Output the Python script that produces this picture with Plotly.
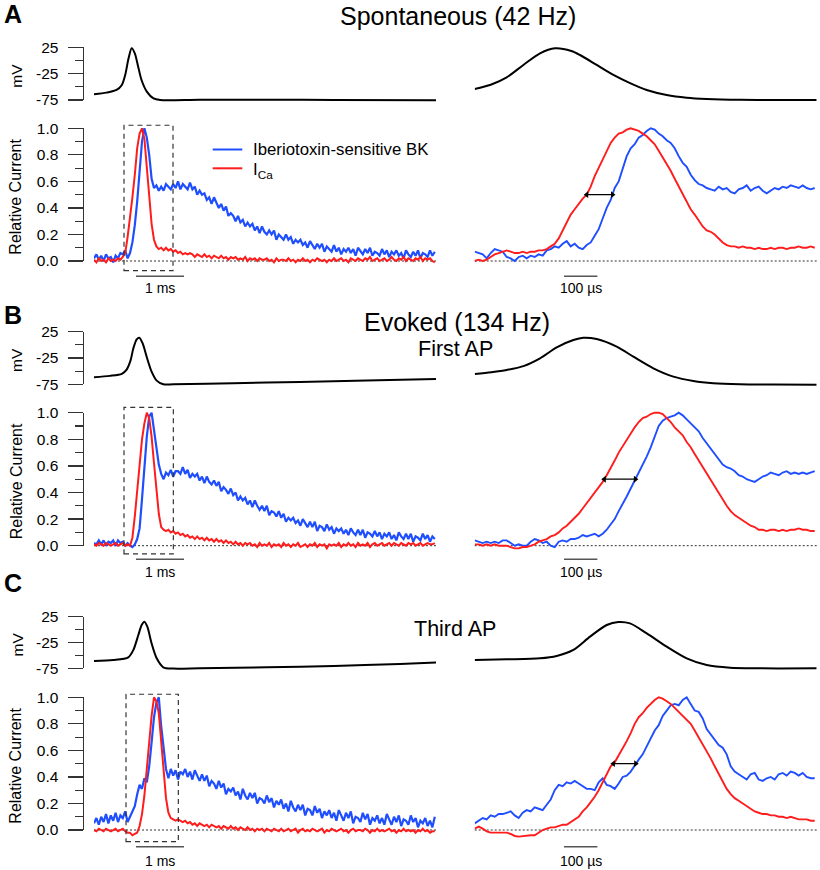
import numpy as np
import plotly.graph_objects as go

# ======================= DATA =======================
DT_LEFT_MS = 0.05   # sampling of full traces (ms)
DT_RIGHT_US = 12    # sampling of zoomed traces (us)

# ---------- A: Spontaneous (42 Hz) ----------
A_v_left_t = [0, 0.26, 0.47, 0.58, 0.65, 0.72, 0.785, 0.85, 0.92, 0.99, 1.10, 1.24, 1.38, 2.2, 3.6, 5.0, 7.125]
A_v_left = [-64, -61, -56, -46.5, -27.5, 4, 23, 13.6, -11.7, -37, -59, -72, -75, -74.4, -74.4, -75, -75.6]
A_bk_left = [0.02, 0.05, 0.01, 0.04, 0.00, 0.05, 0.02, 0.03, -0.01, 0.04, 0.02, 0.06, 0.05, 0.08, 0.02,
             0.06, 0.14, 0.27, 0.45, 0.70, 0.90, 1.00, 0.93, 0.80, 0.62, 0.55,
             0.57, 0.53, 0.56, 0.53, 0.58, 0.56, 0.54, 0.58, 0.55, 0.60,
             0.54, 0.58, 0.56, 0.54, 0.59, 0.54, 0.56, 0.50, 0.53, 0.50,
             0.51, 0.46, 0.48, 0.43, 0.48, 0.44, 0.40, 0.43, 0.38, 0.41,
             0.34, 0.36, 0.34, 0.30, 0.34, 0.29, 0.31, 0.26, 0.29, 0.26,
             0.28, 0.23, 0.26, 0.21, 0.26, 0.22, 0.20, 0.23, 0.20, 0.23,
             0.16, 0.20, 0.18, 0.16, 0.20, 0.16, 0.18, 0.13, 0.16, 0.14,
             0.16, 0.12, 0.14, 0.10, 0.15, 0.12, 0.09, 0.13, 0.10, 0.13,
             0.07, 0.11, 0.09, 0.07, 0.12,
             0.07, 0.10, 0.05, 0.09, 0.07, 0.10, 0.06, 0.09, 0.04, 0.10,
             0.07, 0.05, 0.09, 0.06, 0.10, 0.04, 0.07, 0.06, 0.04, 0.09,
             0.05, 0.08, 0.03, 0.07, 0.05, 0.08, 0.04, 0.06, 0.02, 0.08,
             0.05, 0.03, 0.07, 0.04, 0.08, 0.02, 0.06, 0.05, 0.03, 0.08,
             0.04, 0.07]
A_ca_left = [0.01, -0.01, 0.02, 0.00, 0.01, -0.01, 0.02, 0.00, 0.01, 0.00, 0.02, 0.01,
             0.03, 0.06, 0.18, 0.32, 0.48, 0.65, 0.85, 0.96, 1.00, 0.92, 0.70, 0.45, 0.28, 0.16,
             0.11, 0.09, 0.10, 0.08, 0.10, 0.08, 0.09, 0.07, 0.08, 0.06, 0.07, 0.05, 0.06, 0.05, 0.06,
             0.05, 0.03, 0.05, 0.04, 0.03, 0.05, 0.03, 0.04, 0.02, 0.04,
             0.03, 0.02, 0.04, 0.02, 0.03, 0.01, 0.03, 0.02, 0.03, 0.01,
             0.02, 0.01, 0.03, 0.00, 0.02, 0.01, 0.02, 0.00, 0.02, 0.01,
             0.01, 0.02, 0.00, 0.01, -0.01, 0.02, 0.00, 0.01, 0.01, 0.00,
             0.02, 0.00, 0.01, -0.01, 0.01, 0.00, 0.02, 0.00, 0.01, -0.01,
             0.01, 0.00, 0.02, 0.01, 0.00, 0.01, -0.01, 0.01, 0.00, 0.02,
             0.00, 0.01, 0.02, 0.00, 0.01, -0.01, 0.02, 0.01, 0.00, 0.02,
             0.01, 0.00, 0.02, 0.01, 0.03, 0.00, 0.01, 0.02, 0.00, 0.01,
             0.02, 0.00, 0.01, 0.03, 0.01, 0.00, 0.02, 0.01, 0.03, 0.00,
             0.02, 0.01, 0.00, 0.02, 0.01, 0.03, 0.00, 0.02, 0.01, 0.02, 0.00, -0.01]
A_v_right_t = [0, 48, 96, 146, 196, 241, 290, 316, 366, 416, 466, 516, 576, 636, 696, 796, 896, 1026]
A_v_right = [-54, -46, -32, -8.5, 13.6, 23, 18, 10.4, -8.5, -27.5, -43, -56, -65.5, -70.6, -73, -74.7, -75, -75]
A_bk_right = [0.07, 0.06, 0.05, 0.02, 0.06, 0.09, 0.08, 0.07, 0.03, 0.02,
              0.00, 0.03, 0.04, 0.02, 0.04, 0.03, 0.05, 0.04, 0.08, 0.09,
              0.11, 0.10, 0.13, 0.15, 0.11, 0.13, 0.10, 0.09, 0.12, 0.14,
              0.19, 0.24, 0.32, 0.40, 0.46, 0.55, 0.60, 0.69, 0.79, 0.85,
              0.88, 0.93, 0.95, 0.98, 1.00, 0.99, 0.96, 0.94, 0.91, 0.89,
              0.85, 0.79, 0.74, 0.71, 0.65, 0.61, 0.58, 0.57, 0.55, 0.54,
              0.53, 0.56, 0.54, 0.55, 0.52, 0.51, 0.54, 0.55, 0.57, 0.53,
              0.55, 0.56, 0.53, 0.51, 0.53, 0.55, 0.54, 0.56, 0.55, 0.57,
              0.56, 0.55, 0.57, 0.55, 0.54, 0.55]
A_ca_right = [0.00, 0.01, 0.00, 0.01, 0.03, 0.05, 0.06, 0.07, 0.08, 0.07,
              0.06, 0.06, 0.07, 0.06, 0.07, 0.07, 0.08, 0.08, 0.09, 0.11,
              0.13, 0.17, 0.23, 0.29, 0.35, 0.39, 0.43, 0.47, 0.50, 0.56,
              0.64, 0.70, 0.77, 0.83, 0.89, 0.93, 0.96, 0.97, 0.99, 1.00,
              0.99, 0.98, 0.96, 0.94, 0.91, 0.88, 0.83, 0.78, 0.74, 0.68,
              0.62, 0.56, 0.50, 0.44, 0.39, 0.35, 0.30, 0.26, 0.23, 0.22,
              0.20, 0.17, 0.14, 0.12, 0.11, 0.11, 0.10, 0.11, 0.10, 0.10,
              0.09, 0.10, 0.09, 0.09, 0.10, 0.09, 0.10, 0.10, 0.09, 0.10,
              0.10, 0.11, 0.10, 0.10, 0.11, 0.10]
A_zoom_window_ms = [0.625, 1.646]

# ---------- B: Evoked (134 Hz), first AP ----------
B_v_left_t = [0, 0.33, 0.58, 0.68, 0.76, 0.82, 0.89, 0.944, 1.014, 1.097, 1.20, 1.306, 1.444, 1.653, 2.9, 4.29, 5.68, 7.125]
B_v_left = [-61.7, -59, -55, -47, -30, -6.6, 10.4, 13.6, 2.8, -22.5, -51, -68, -75, -75, -73, -70.6, -68, -65]
B_bk_left = [0.02, 0.01, 0.04, 0.01, 0.04, 0.00, 0.03, 0.02, 0.04, 0.00, 0.04, 0.02, 0.03, 0.00, 0.02,
             0.00, -0.01, 0.01, 0.05, 0.13, 0.35, 0.58, 0.82, 0.97, 1.00, 0.87, 0.72, 0.61, 0.54, 0.50,
             0.55, 0.53, 0.57, 0.52, 0.56, 0.56, 0.54, 0.59, 0.54, 0.57,
             0.51, 0.54, 0.52, 0.54, 0.49, 0.52, 0.47, 0.52, 0.48, 0.46,
             0.49, 0.45, 0.48, 0.41, 0.44, 0.42, 0.39, 0.43, 0.38, 0.40,
             0.34, 0.37, 0.34, 0.36, 0.31, 0.34, 0.29, 0.34, 0.30, 0.27,
             0.30, 0.26, 0.30, 0.23, 0.26, 0.25, 0.22, 0.26, 0.21, 0.24,
             0.18, 0.21, 0.19, 0.21, 0.17, 0.19, 0.15, 0.20, 0.17, 0.14,
             0.18, 0.14, 0.18, 0.11, 0.15, 0.14, 0.11, 0.16, 0.12, 0.14,
             0.09,
             0.13, 0.11, 0.13, 0.09, 0.12, 0.08, 0.13, 0.10, 0.08, 0.12,
             0.08, 0.12, 0.06, 0.10, 0.09, 0.07, 0.11, 0.07, 0.10, 0.05,
             0.09, 0.07, 0.10, 0.05, 0.08, 0.04, 0.10, 0.07, 0.05, 0.09,
             0.05, 0.09, 0.03, 0.07, 0.06, 0.04, 0.09, 0.05, 0.08, 0.03,
             0.07, 0.05]
B_ca_left = [0.01, 0.00, 0.02, 0.01, 0.00, 0.02, 0.01, 0.00, 0.01, 0.02, 0.00, 0.01, 0.02, 0.00, 0.01,
             0.00, 0.06, 0.22, 0.42, 0.65, 0.80, 0.92, 1.00, 0.96, 0.82, 0.62, 0.40, 0.24, 0.14, 0.12,
             0.11, 0.12, 0.10, 0.11, 0.09, 0.10, 0.08, 0.09, 0.07, 0.08, 0.06,
             0.07, 0.05, 0.07, 0.05, 0.06, 0.04, 0.06, 0.04, 0.05, 0.03,
             0.05, 0.03, 0.04, 0.02, 0.04, 0.02, 0.03, 0.01, 0.03, 0.01,
             0.02, 0.00, 0.02, 0.01, 0.02, 0.00, 0.01, -0.01, 0.02, 0.00,
             0.01, 0.00, 0.02, -0.01, 0.01, 0.00, 0.01, -0.01, 0.02, 0.00,
             0.01, -0.01, 0.01, 0.00, 0.02, -0.01, 0.00, 0.01, -0.01, 0.01,
             0.00, 0.02, -0.01, 0.01, 0.00, 0.01, -0.02, 0.01, 0.00, 0.01,
             0.00, 0.02, -0.01, 0.01, 0.00, 0.02, 0.00, 0.01, -0.01, 0.02,
             0.00, 0.01, 0.00, 0.02, -0.01, 0.01, 0.02, 0.00, 0.01, 0.02,
             0.00, 0.01, 0.02, 0.00, 0.02, 0.01, 0.00, 0.02, 0.01, 0.00,
             0.02, 0.01, 0.02, 0.00, 0.01, 0.02, 0.00, 0.01, 0.02, 0.01,
             0.01, 0.02]
B_v_right_t = [0, 50, 96, 146, 196, 246, 296, 326, 366, 426, 476, 536, 596, 656, 716, 796, 896, 1026]
B_v_right = [-55.4, -52, -47.8, -40.4, -25.6, -4.7, 9.2, 13.6, 11, -3.5, -22.5, -44.6, -60.4, -68.7, -73, -75, -75.6, -76]
B_bk_right = [0.04, 0.03, 0.02, 0.03, 0.02, 0.03, 0.02, 0.04, 0.04, 0.02,
              0.00, 0.01, 0.00, 0.00, 0.03, 0.05, 0.04, 0.02, 0.03, 0.00,
              -0.01, 0.03, 0.04, 0.03, 0.05, 0.05, 0.06, 0.08, 0.07, 0.08,
              0.09, 0.07, 0.09, 0.12, 0.16, 0.20, 0.26, 0.31, 0.37, 0.43,
              0.49, 0.55, 0.60, 0.67, 0.74, 0.82, 0.90, 0.94, 0.96, 0.97,
              0.98, 1.00, 0.98, 0.95, 0.92, 0.89, 0.86, 0.81, 0.77, 0.73,
              0.69, 0.65, 0.61, 0.59, 0.58, 0.56, 0.53, 0.52, 0.50, 0.49,
              0.48, 0.50, 0.52, 0.53, 0.55, 0.54, 0.53, 0.55, 0.56, 0.54,
              0.55, 0.54, 0.55, 0.54, 0.55, 0.56]
B_ca_right = [0.01, 0.01, 0.00, 0.01, 0.00, 0.01, 0.00, 0.00, 0.00, -0.01,
              -0.02, -0.02, -0.01, -0.01, 0.00, 0.01, 0.03, 0.04, 0.05, 0.07,
              0.08, 0.10, 0.13, 0.15, 0.18, 0.21, 0.24, 0.28, 0.32, 0.36,
              0.40, 0.44, 0.48, 0.53, 0.58, 0.64, 0.70, 0.75, 0.80, 0.85,
              0.89, 0.93, 0.96, 0.97, 0.99, 1.00, 1.00, 0.99, 0.96, 0.93,
              0.89, 0.86, 0.83, 0.78, 0.74, 0.69, 0.64, 0.59, 0.54, 0.49,
              0.44, 0.39, 0.34, 0.30, 0.26, 0.23, 0.21, 0.19, 0.17, 0.15,
              0.14, 0.12, 0.12, 0.11, 0.12, 0.12, 0.11, 0.12, 0.11, 0.12,
              0.12, 0.13, 0.12, 0.12, 0.11, 0.11]
B_zoom_window_ms = [0.625, 1.653]

# ---------- C: Evoked (134 Hz), third AP ----------
C_v_left_t = [0, 0.40, 0.715, 0.82, 0.924, 0.993, 1.049, 1.111, 1.2, 1.306, 1.444, 1.653, 2.2, 3.6, 5.0, 6.375, 7.125]
C_v_left = [-60.8, -59, -53.7, -39.5, -10.5, 8.9, 15.3, 5.6, -26.6, -55.6, -73, -75.6, -75, -73, -70.5, -66.6, -64]
C_bk_left = [0.05, 0.09, 0.04, 0.10, 0.06, 0.12, 0.05, 0.11, 0.07, 0.13, 0.06, 0.11, 0.09, 0.14, 0.06,
             0.10, 0.14, 0.18, 0.27, 0.34, 0.31, 0.39, 0.36, 0.48, 0.66, 0.85, 0.96, 1.00, 0.78, 0.60,
             0.46,
             0.39, 0.46, 0.41, 0.45, 0.38, 0.44, 0.42, 0.46, 0.40, 0.44,
             0.38, 0.45, 0.41, 0.37, 0.42, 0.37, 0.41, 0.33, 0.37, 0.35,
             0.31, 0.37, 0.32, 0.35, 0.27, 0.31, 0.29, 0.32, 0.26, 0.29,
             0.23, 0.31, 0.26, 0.23, 0.28, 0.24, 0.28, 0.20, 0.24, 0.23,
             0.20, 0.26, 0.21, 0.24, 0.17, 0.22, 0.19, 0.23, 0.16, 0.20,
             0.14, 0.22, 0.17, 0.14, 0.19, 0.15, 0.19, 0.11, 0.16, 0.15,
             0.11, 0.18, 0.13, 0.16, 0.09, 0.14, 0.11, 0.15, 0.09, 0.13,
             0.07, 0.15, 0.11, 0.07, 0.13, 0.09, 0.14, 0.05, 0.10, 0.09,
             0.06, 0.13, 0.08, 0.12, 0.04, 0.09, 0.07, 0.11, 0.05, 0.09,
             0.04, 0.12, 0.08, 0.04, 0.10, 0.06, 0.11, 0.03, 0.08, 0.07,
             0.04, 0.11, 0.06, 0.09, 0.02, 0.07, 0.05, 0.09, 0.03, 0.07,
             0.02, 0.10]
C_ca_left = [0.00, -0.01, 0.01, 0.00, -0.01, 0.01, 0.00, -0.01, 0.00, 0.01, -0.01, 0.00, 0.01, -0.01, -0.02,
             -0.02, -0.04, -0.03, -0.02, 0.03, 0.12, 0.26, 0.45, 0.68, 0.86, 1.00, 0.97, 0.88, 0.68, 0.45,
             0.24, 0.13, 0.09, 0.08, 0.07, 0.08, 0.07, 0.06, 0.07, 0.05, 0.06,
             0.04, 0.05, 0.03, 0.05, 0.04, 0.03, 0.04, 0.02, 0.04, 0.03,
             0.02, 0.03, 0.01, 0.03, 0.02, 0.01, 0.03, 0.01, 0.02, 0.00,
             0.02, 0.01, 0.00, 0.02, 0.00, 0.01, -0.01, 0.01, 0.00, 0.01,
             -0.01, 0.01, 0.00, -0.01, 0.01, 0.00, -0.01, 0.01, -0.01, 0.00,
             0.01, -0.01, 0.00, 0.01, -0.02, 0.00, 0.01, -0.01, 0.00, -0.01,
             0.01, 0.00, -0.01, 0.00, 0.01, -0.02, 0.00, -0.01, 0.01, 0.00,
             -0.01, 0.00, 0.01, -0.01, 0.00, -0.02, 0.00, 0.01, -0.01, 0.00,
             0.00, -0.01, 0.01, 0.00, -0.02, 0.00, -0.01, 0.01, -0.01, 0.00,
             -0.01, 0.00, 0.01, -0.01, 0.00, -0.02, 0.00, -0.01, 0.01, -0.01,
             0.00, -0.01, 0.00, -0.02, 0.00, -0.01, 0.01, -0.01, 0.00, -0.02,
             -0.01, -0.01]
C_v_right_t = [0, 96, 196, 246, 296, 346, 396, 431, 466, 516, 576, 636, 696, 766, 846, 1026]
C_v_right = [-58.9, -57.6, -55.6, -51, -39.5, -13.7, 8.9, 14.7, 12, -7.3, -33, -55.6, -68.5, -73.7, -75, -75]
C_bk_right = [0.05, 0.07, 0.09, 0.08, 0.11, 0.10, 0.12, 0.12, 0.13, 0.14,
              0.11, 0.09, 0.13, 0.15, 0.14, 0.17, 0.16, 0.15, 0.19, 0.23,
              0.30, 0.34, 0.33, 0.36, 0.35, 0.37, 0.35, 0.33, 0.31, 0.31,
              0.30, 0.36, 0.39, 0.34, 0.33, 0.31, 0.35, 0.40, 0.41, 0.44,
              0.49, 0.53, 0.57, 0.63, 0.68, 0.75, 0.79, 0.86, 0.90, 0.94,
              0.95, 0.94, 0.98, 1.00, 0.95, 0.90, 0.89, 0.84, 0.76, 0.72,
              0.68, 0.64, 0.62, 0.57, 0.48, 0.44, 0.42, 0.40, 0.38, 0.42,
              0.43, 0.38, 0.37, 0.39, 0.40, 0.38, 0.42, 0.43, 0.41, 0.44,
              0.43, 0.41, 0.43, 0.40, 0.39, 0.39]
C_ca_right = [0.01, 0.025, 0.01, -0.01, -0.02, -0.02, -0.025, -0.02, -0.02, -0.03,
              -0.045, -0.05, -0.045, -0.045, -0.04, -0.04, -0.02, 0.00, 0.01, 0.02,
              0.02, 0.03, 0.04, 0.04, 0.06, 0.08, 0.10, 0.14, 0.17, 0.21,
              0.25, 0.30, 0.36, 0.42, 0.48, 0.51, 0.56, 0.62, 0.67, 0.73,
              0.80, 0.85, 0.88, 0.92, 0.95, 0.98, 1.00, 0.99, 0.97, 0.95,
              0.92, 0.89, 0.86, 0.83, 0.80, 0.75, 0.70, 0.65, 0.59, 0.54,
              0.48, 0.42, 0.37, 0.31, 0.27, 0.24, 0.22, 0.20, 0.18, 0.16,
              0.14, 0.13, 0.12, 0.12, 0.11, 0.11, 0.10, 0.10, 0.09, 0.10,
              0.09, 0.08, 0.08, 0.08, 0.07, 0.07]
C_zoom_window_ms = [0.667, 1.757]

# axis tick labels / texts
V_TICKS = [-75, -25, 25]
V_MINOR = [-50, 0]
I_TICKS = [0.0, 0.2, 0.4, 0.6, 0.8, 1.0]
I_MINOR = [0.1, 0.3, 0.5, 0.7, 0.9]
TITLES = {"A": "Spontaneous (42 Hz)", "B": "Evoked (134 Hz)"}
SUBTITLES = {"B": "First AP", "C": "Third AP"}
LEGEND = ["Iberiotoxin-sensitive BK", "I<sub>Ca</sub>"]

# ======================= STYLE / LAYOUT =======================
W, H = 820, 870
FONT = "Liberation Sans, Arial, Helvetica, sans-serif"
BLUE = "#1F4EFF"
RED = "#FF1C1C"
AX = "#333333"
LEFT_X_PX = (94, 436)
RIGHT_X_PX = (474.7, 816.7)
LEFT_RANGE = [0, 7.125]
RIGHT_RANGE = [0, 1026]
SPINE_X_PX = 82.5
V_RANGE = [-80, 30]
I_RANGE = [-0.27, 1.08]
SB_LEFT = (0.875, 1.0)     # start, length (ms)
SB_RIGHT = (268, 100)      # start, length (us)

GEOM = {
    "A": dict(v_cal=(25, 47.3, -75, 100.0), i_cal=(1.0, 128.3, 0.0, 261.0),
              box_y=(-0.073, 1.023), bar_y=-0.115, label_y=-0.205, letter_y=14),
    "B": dict(v_cal=(25, 331.7, -75, 384.3), i_cal=(1.0, 412.7, 0.0, 545.7),
              box_y=(-0.062, 1.04), bar_y=-0.102, label_y=-0.195, letter_y=315),
    "C": dict(v_cal=(25, 616.7, -75, 668.3), i_cal=(1.0, 697.3, 0.0, 830.0),
              box_y=(-0.088, 1.023), bar_y=-0.126, label_y=-0.234, letter_y=583),
}

PANELS = {
    "A": dict(vl_t=A_v_left_t, vl=A_v_left, bkl=A_bk_left, cal=A_ca_left,
              vr_t=A_v_right_t, vr=A_v_right, bkr=A_bk_right, car=A_ca_right, win=A_zoom_window_ms),
    "B": dict(vl_t=B_v_left_t, vl=B_v_left, bkl=B_bk_left, cal=B_ca_left,
              vr_t=B_v_right_t, vr=B_v_right, bkr=B_bk_right, car=B_ca_right, win=B_zoom_window_ms),
    "C": dict(vl_t=C_v_left_t, vl=C_v_left, bkl=C_bk_left, cal=C_ca_left,
              vr_t=C_v_right_t, vr=C_v_right, bkr=C_bk_right, car=C_ca_right, win=C_zoom_window_ms),
}


def px_x(x):
    return x / W


def px_y(y):
    return 1 - y / H


def ydomain(cal, rng):
    vhi, pyhi, vlo, pylo = cal
    k = (pylo - pyhi) / (vhi - vlo)
    p_min = pylo + (vlo - rng[0]) * k
    p_max = pyhi - (rng[1] - vhi) * k
    return [px_y(p_min), px_y(p_max)]


def tickdomain(cal):
    vhi, pyhi, vlo, pylo = cal
    return [px_y(pylo), px_y(pyhi)]


def names(k):
    xs = "x" if k == 1 else f"x{k}"
    ys = "y" if k == 1 else f"y{k}"
    xl = "xaxis" if k == 1 else f"xaxis{k}"
    yl = "yaxis" if k == 1 else f"yaxis{k}"
    return xs, ys, xl, yl


def half_cross(t, y, level=0.5):
    y = np.asarray(y, dtype=float)
    t = np.asarray(t, dtype=float)
    i = int(np.argmax(y >= level))
    return t[i - 1] + (level - y[i - 1]) * (t[i] - t[i - 1]) / (y[i] - y[i - 1])


fig = go.Figure()
layout = {}
shapes = []
annotations = []

xdom_left = [px_x(LEFT_X_PX[0]), px_x(LEFT_X_PX[1])]
xdom_right = [px_x(RIGHT_X_PX[0]), px_x(RIGHT_X_PX[1])]


def add_subplot(k, xdom, xrng, ydom, yrng):
    xs, ys, xl, yl = names(k)
    layout[xl] = dict(domain=xdom, range=xrng, visible=False, anchor=ys, fixedrange=True)
    layout[yl] = dict(domain=ydom, range=yrng, visible=False, anchor=xs, fixedrange=True)
    return xs, ys


def tick_axis(m, xs, cal, rng, vals, text, minor):
    _, ys, _, yl = names(m)
    layout[yl] = dict(domain=tickdomain(cal), range=rng, anchor="free", position=px_x(SPINE_X_PX),
                      showline=True, linecolor=AX, linewidth=1.2, ticks="outside", ticklen=15,
                      tickwidth=1.2, tickcolor=AX, tickmode="array", tickvals=vals, ticktext=text,
                      tickfont=dict(size=15.5, family=FONT, color="black"), ticklabelstandoff=6,
                      minor=dict(tickvals=minor, ticklen=7.5, tickwidth=1.2, tickcolor=AX, ticks="outside"),
                      showgrid=False, zeroline=False, fixedrange=True, automargin=False)
    fig.add_trace(go.Scatter(x=[None], y=[None], xaxis=xs, yaxis=ys, showlegend=False, hoverinfo="skip"))


def line(x, y, xs, ys, color, width, spline=False):
    fig.add_trace(go.Scatter(x=x, y=y, xaxis=xs, yaxis=ys, mode="lines", showlegend=False,
                             hoverinfo="skip",
                             line=dict(color=color, width=width,
                                       shape="spline" if spline else "linear", smoothing=0.8)))


tick_m = 13
for p_idx, key in enumerate(["A", "B", "C"]):
    d = PANELS[key]
    g = GEOM[key]
    kVL, kIL, kVR, kIR = 4 * p_idx + 1, 4 * p_idx + 2, 4 * p_idx + 3, 4 * p_idx + 4
    vdom = ydomain(g["v_cal"], V_RANGE)
    idom = ydomain(g["i_cal"], I_RANGE)
    xVL, yVL = add_subplot(kVL, xdom_left, LEFT_RANGE, vdom, V_RANGE)
    xIL, yIL = add_subplot(kIL, xdom_left, LEFT_RANGE, idom, I_RANGE)
    xVR, yVR = add_subplot(kVR, xdom_right, RIGHT_RANGE, vdom, V_RANGE)
    xIR, yIR = add_subplot(kIR, xdom_right, RIGHT_RANGE, idom, I_RANGE)

    # tick axes (spines only over the labelled span)
    tick_axis(tick_m, xVL, g["v_cal"], [-75, 25], V_TICKS, [str(v) for v in V_TICKS], V_MINOR)
    tick_axis(tick_m + 1, xIL, g["i_cal"], [0, 1], I_TICKS, [f"{v:.1f}" for v in I_TICKS], I_MINOR)
    tick_m += 2

    # zero dotted lines
    for xs, ys in [(xIL, yIL), (xIR, yIR)]:
        shapes.append(dict(type="line", xref=f"{xs} domain", x0=0, x1=1, yref=ys, y0=0, y1=0,
                           line=dict(color=AX, width=1, dash="2px,2px"), layer="below"))

    t_left = np.arange(len(d["bkl"])) * DT_LEFT_MS
    t_left_ca = np.arange(len(d["cal"])) * DT_LEFT_MS
    t_right = np.arange(len(d["bkr"])) * DT_RIGHT_US
    t_right_ca = np.arange(len(d["car"])) * DT_RIGHT_US

    line(d["vl_t"], d["vl"], xVL, yVL, "black", 2, spline=True)
    line(t_left, d["bkl"], xIL, yIL, BLUE, 2.2)
    line(t_left_ca, d["cal"], xIL, yIL, RED, 2.0)
    line(d["vr_t"], d["vr"], xVR, yVR, "black", 2, spline=True)
    line(t_right, d["bkr"], xIR, yIR, BLUE, 1.9)
    line(t_right_ca, d["car"], xIR, yIR, RED, 1.9)

    # dashed zoom box
    shapes.append(dict(type="rect", xref=xIL, yref=yIL, x0=d["win"][0], x1=d["win"][1],
                       y0=g["box_y"][0], y1=g["box_y"][1],
                       line=dict(color=AX, width=1.2, dash="5px,4px")))
    # scale bars
    shapes.append(dict(type="line", xref=xIL, yref=yIL, x0=SB_LEFT[0], x1=SB_LEFT[0] + SB_LEFT[1],
                       y0=g["bar_y"], y1=g["bar_y"], line=dict(color="#555555", width=1.4)))
    shapes.append(dict(type="line", xref=xIR, yref=yIR, x0=SB_RIGHT[0], x1=SB_RIGHT[0] + SB_RIGHT[1],
                       y0=g["bar_y"], y1=g["bar_y"], line=dict(color="#555555", width=1.4)))
    annotations.append(dict(xref=xIL, yref=yIL, x=SB_LEFT[0] + SB_LEFT[1] / 2, y=g["label_y"],
                            text="1 ms", showarrow=False, xanchor="center", yanchor="middle",
                            font=dict(size=14, family=FONT, color="black")))
    annotations.append(dict(xref=xIR, yref=yIR, x=SB_RIGHT[0] + SB_RIGHT[1] / 2, y=g["label_y"],
                            text="100 µs", showarrow=False, xanchor="center", yanchor="middle",
                            font=dict(size=14, family=FONT, color="black")))

    # half-rise double arrow between Ca and BK (line with triangle heads)
    x_ca = half_cross(t_right_ca, d["car"])
    x_bk = half_cross(t_right, d["bkr"])
    fig.add_trace(go.Scatter(x=[x_ca, x_bk], y=[0.5, 0.5], xaxis=xIR, yaxis=yIR, mode="lines+markers",
                             showlegend=False, hoverinfo="skip",
                             line=dict(color="black", width=1.3),
                             marker=dict(symbol=["triangle-left", "triangle-right"], size=6,
                                         color="black", line=dict(width=0))))

    # panel letter
    annotations.append(dict(xref="paper", yref="paper", x=px_x(2), y=px_y(g["letter_y"]),
                            text=f"<b>{key}</b>", showarrow=False, xanchor="left", yanchor="middle",
                            font=dict(size=25, family=FONT, color="black")))
    # axis titles
    vcal, ical = g["v_cal"], g["i_cal"]
    annotations.append(dict(xref="paper", yref="paper", x=px_x(17), y=px_y((vcal[1] + vcal[3]) / 2 + 2),
                            text="mV", textangle=-90, showarrow=False, xanchor="center",
                            yanchor="middle", font=dict(size=15.5, family=FONT, color="black")))
    annotations.append(dict(xref="paper", yref="paper", x=px_x(16), y=px_y((ical[1] + ical[3]) / 2 + 2),
                            text="Relative Current", textangle=-90, showarrow=False, xanchor="center",
                            yanchor="middle", font=dict(size=16, family=FONT, color="black")))

# titles
annotations.append(dict(xref="paper", yref="paper", x=px_x(458), y=px_y(16), text=TITLES["A"],
                        showarrow=False, xanchor="center", yanchor="middle",
                        font=dict(size=25, family=FONT, color="black")))
annotations.append(dict(xref="paper", yref="paper", x=px_x(457), y=px_y(322), text=TITLES["B"],
                        showarrow=False, xanchor="center", yanchor="middle",
                        font=dict(size=25, family=FONT, color="black")))
annotations.append(dict(xref="paper", yref="paper", x=px_x(455), y=px_y(349), text=SUBTITLES["B"],
                        showarrow=False, xanchor="center", yanchor="middle",
                        font=dict(size=21.5, family=FONT, color="black")))
annotations.append(dict(xref="paper", yref="paper", x=px_x(455), y=px_y(629), text=SUBTITLES["C"],
                        showarrow=False, xanchor="center", yanchor="middle",
                        font=dict(size=21.5, family=FONT, color="black")))

# manual legend (panel A)
for i, (txt, col, ypx) in enumerate([(LEGEND[0], BLUE, 149.5), (LEGEND[1], RED, 168.3)]):
    shapes.append(dict(type="line", xref="paper", yref="paper", x0=px_x(212.7), x1=px_x(242.3),
                       y0=px_y(ypx), y1=px_y(ypx), line=dict(color=col, width=2)))
    annotations.append(dict(xref="paper", yref="paper", x=px_x(250.5), y=px_y(ypx + (2.5 if i else 0)),
                            text=txt, showarrow=False, xanchor="left", yanchor="middle",
                            font=dict(size=16.8, family=FONT, color="black")))

fig.update_layout(
    width=W, height=H, margin=dict(l=0, r=0, t=0, b=0, pad=0, autoexpand=False),
    paper_bgcolor="white", plot_bgcolor="rgba(0,0,0,0)",
    showlegend=False, shapes=shapes, annotations=annotations,
    font=dict(family=FONT, color="black"),
    **layout,
)

fig.write_html("out.html", config={"displayModeBar": False, "staticPlot": True},
               post_script="document.body.style.margin='0px';document.body.style.overflow='hidden';")
